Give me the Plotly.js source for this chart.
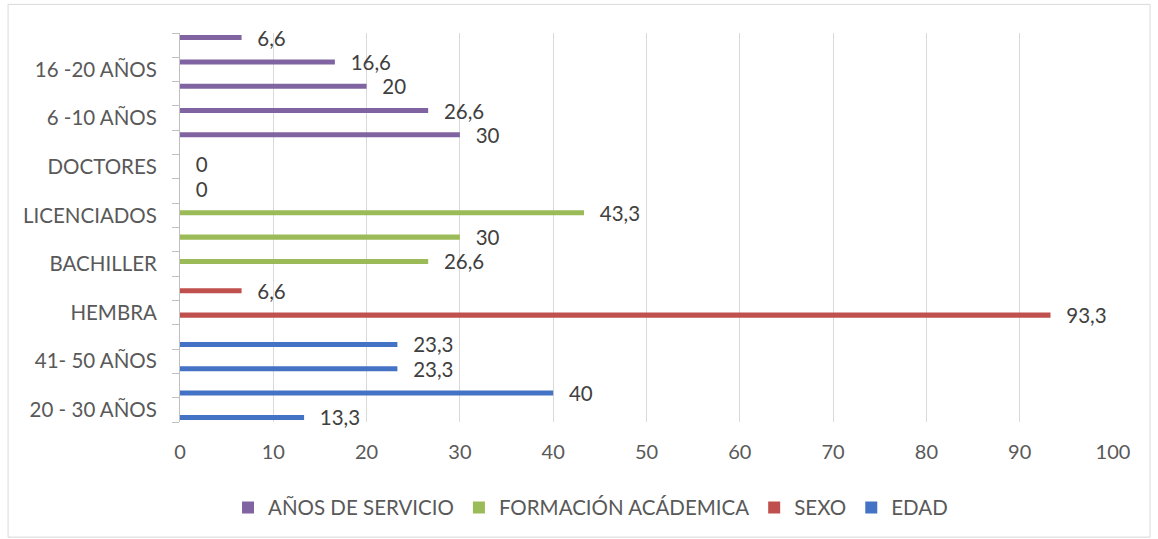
<!DOCTYPE html>
<html>
<head>
<meta charset="utf-8">
<script src="https://cdn.plot.ly/plotly-3.0.1.min.js"></script>
<style>
  html, body { margin: 0; padding: 0; background: #ffffff; }
  #chart { width: 1158px; height: 539px; }
</style>
</head>
<body>
<div id="chart"></div>
<script>
// Categories from bottom to top (only every other label is displayed, as in the source)
const categories = [
  '20 - 30 AÑOS', '31 - 40 AÑOS', '41- 50 AÑOS', '51 - 60 AÑOS',
  'HEMBRA', 'VARÓN',
  'BACHILLER', 'TÉCNICO SUPERIOR', 'LICENCIADOS', 'MAGISTER', 'DOCTORES',
  '1 - 5 AÑOS', '6 -10 AÑOS', '11 - 15 AÑOS', '16 -20 AÑOS', '21 - 25 AÑOS'
];
const shownLabels = [
  '20 - 30 AÑOS', '', '41- 50 AÑOS', '',
  'HEMBRA', '',
  'BACHILLER', '', 'LICENCIADOS', '', 'DOCTORES',
  '', '6 -10 AÑOS', '', '16 -20 AÑOS', ''
];

const edad      = [13.3, 40, 23.3, 23.3, null, null, null, null, null, null, null, null, null, null, null, null];
const sexo      = [null, null, null, null, 93.3, 6.6, null, null, null, null, null, null, null, null, null, null];
const formacion = [null, null, null, null, null, null, 26.6, 30, 43.3, 0, 0, null, null, null, null, null];
const anos      = [null, null, null, null, null, null, null, null, null, null, null, 30, 26.6, 20, 16.6, 6.6];

const seriesNames = ['EDAD', 'SEXO', 'FORMACIÓN ACÁDEMICA', 'AÑOS DE SERVICIO'];
const seriesColors = ['#4472C4', '#C0504D', '#9BBB59', '#8064A2'];
const seriesValues = [edad, sexo, formacion, anos];

const FONT = 'Lato, "Open Sans", "Liberation Sans", sans-serif';
const FS = 20.5;

function labelOf(v) {
  if (v === null) return '';
  return '\u00a0\u00a0\u00a0' + String(v).replace('.', ',');
}

const traces = seriesValues.map((vals, i) => ({
  type: 'bar',
  orientation: 'h',
  name: seriesNames[i],
  y: categories,
  x: vals,
  text: vals.map(labelOf),
  textposition: 'outside',
  constraintext: 'none',
  textfont: { family: FONT, size: FS, color: '#404040' },
  cliponaxis: false,
  marker: { color: seriesColors[i] },
  hoverinfo: 'x+name'
}));

const layout = {
  width: 1158,
  height: 539,
  paper_bgcolor: '#ffffff',
  plot_bgcolor: '#ffffff',
  margin: { l: 180, r: 45, t: 33, b: 117 },
  barmode: 'group',
  bargap: 0.17,
  bargroupgap: 0,
  showlegend: true,
  font: { family: FONT, size: FS, color: '#595959' },
  xaxis: {
    range: [0, 100],
    dtick: 10,
    showgrid: true,
    gridcolor: '#D9D9D9',
    gridwidth: 1,
    zeroline: false,
    showline: false,
    ticks: '',
    ticklabelstandoff: 16,
    tickfont: { family: FONT, size: 20, color: '#595959' },
    fixedrange: true
  },
  yaxis: {
    type: 'category',
    categoryorder: 'array',
    categoryarray: categories,
    tickmode: 'array',
    tickvals: categories,
    ticktext: shownLabels,
    tickson: 'boundaries',
    ticks: 'outside',
    ticklen: 7,
    tickcolor: '#BFBFBF',
    showline: true,
    linecolor: '#BFBFBF',
    showgrid: false,
    zeroline: false,
    ticklabelstandoff: 18,
    tickfont: { family: FONT, size: FS, color: '#595959' },
    fixedrange: true
  },
  legend: {
    orientation: 'h',
    traceorder: 'reversed',
    x: 0.44,
    xanchor: 'center',
    y: -0.22,
    yanchor: 'middle',
    font: { family: FONT, size: FS, color: '#595959' },
    itemwidth: 30
  },
  shapes: [{
    type: 'rect',
    xref: 'paper', yref: 'paper',
    x0: -0.1843, x1: 1.0397,
    y0: -0.296, y1: 1.0736,
    line: { color: '#D9D9D9', width: 1 },
    fillcolor: 'rgba(0,0,0,0)',
    layer: 'below'
  }]
};

Plotly.newPlot('chart', traces, layout, { displayModeBar: false, staticPlot: true });
</script>
</body>
</html>
